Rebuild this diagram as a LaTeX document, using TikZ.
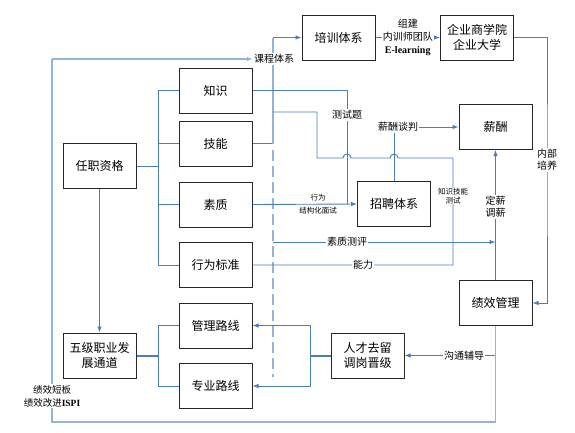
\documentclass[tikz,border=0pt]{standalone}
\usepackage{fontspec}
\setmainfont{Noto Sans CJK SC}
\newfontfamily\romanbold{Liberation Serif}
\usetikzlibrary{arrows.meta}
\definecolor{linkblue}{RGB}{74,126,187}
\definecolor{paleblue}{RGB}{149,179,215}

\begin{document}
\begin{tikzpicture}[x=1pt,y=-1pt,
    box/.style={shape=rectangle,draw=black!85,line width=1pt,minimum width=73pt,minimum height=45pt,inner sep=1pt,align=center,font=\fontsize{12}{15}\selectfont},
    link/.style={draw=linkblue,line width=0.9pt},
    pale/.style={draw=paleblue,line width=1.1pt},
    tip/.style={-{Latex[length=6pt,width=4.5pt]}},
    lbl/.style={fill=white,inner sep=1pt,align=center,font=\fontsize{10}{12}\selectfont},
    tiny/.style={inner sep=0.5pt,align=center,font=\fontsize{7.5}{9}\selectfont}]
    \useasboundingbox (0,0) rectangle (575,432);

    % vertices
    \node[box] (rz) at (99.5,166) {任职资格};
    \node[box] (zs) at (215.5,90.5) {知识};
    \node[box] (jn) at (215.5,143.5) {技能};
    \node[box] (sz) at (215.5,204.5) {素质};
    \node[box] (xw) at (215.5,265) {行为标准};
    \node[box] (gl) at (215.5,325.5) {管理路线};
    \node[box] (zy) at (215.5,386) {专业路线};
    \node[box] (wj) at (99.5,355.5) {五级职业发\\展通道};
    \node[box] (px) at (338.5,37.5) {培训体系};
    \node[box] (qy) at (477,37.5) {企业商学院\\企业大学};
    \node[box] (xc) at (495.5,127) {薪酬};
    \node[box] (zp) at (394,204) {招聘体系};
    \node[box] (jx) at (495.5,303) {绩效管理};
    \node[box] (rc) at (367.5,355.5) {人才去留\\调岗晋级};

    % bends and junctions
    \coordinate (b1) at (158,166);
    \coordinate (b2) at (158,355.5);
    \coordinate (b3) at (310,355.5);
    \coordinate (k0) at (273,143.5);
    \coordinate (k1) at (273,37.5);
    \coordinate (d1) at (273,150);
    \coordinate (d2) at (273,377);
    \coordinate (t1) at (347,90.5);
    \coordinate (t2) at (347,204);
    \coordinate (n1) at (453,265);
    \coordinate (n2) at (453,158);
    \coordinate (n3) at (317,158);
    \coordinate (n4) at (317,112);
    \coordinate (n5) at (273,112);
    \coordinate (q0) at (273,242);
    \coordinate (q1) at (495.5,242);
    \coordinate (nb) at (547,170);
    \coordinate (g1) at (495.5,355.5);
    \coordinate (lp1) at (52,422);
    \coordinate (lp2) at (52,59);

    % edges
    \path [link](rz.east) edge (b1);
    \draw[link] (b1) |- (zs.west);
    \draw[link] (b1) |- (jn.west);
    \draw[link] (b1) |- (sz.west);
    \draw[link] (b1) |- (xw.west);
    \draw[link,tip] (rz.south) -- (wj.north);
    \draw[link,line width=2pt] (wj.east) -- (b2);
    \draw[link] (b2) |- (gl.west);
    \draw[link] (b2) |- (zy.west);
    \draw[link,line width=2pt] (rc.west) -- (b3);
    \draw[link,tip] (b3) |- (gl.east);
    \draw[link,tip] (b3) |- (zy.east);

    \draw[pale,dash pattern=on 11pt off 5pt] (d1) -- (d2);
    \draw[link] (jn.east) -- (k0);
    \draw[pale] (k0) -- (k1);
    \draw[link,tip] (k1) -- (px.west);
    \draw[link,tip] (px.east) -- (qy.west)
        node[midway,lbl,font=\fontsize{10}{13}\selectfont] {组建\\内训师团队\\{\romanbold\bfseries E-learning}};

    \draw[link] (zs.east) -- (t1) -- (t2);
    \draw[link,tip] (sz.east) -- (zp.west);
    \node[lbl] (cst) at (347,115) {测试题};
    \node[tiny,anchor=south] (xwl) at (318,202) {行为};
    \node[tiny,anchor=north] (jgl) at (318,206) {结构化面试};

    \draw[link] (xw.east) -- (n1) -- (n2) -- (398,158) arc (0:180:4pt)
        -- (351,158) arc (0:180:4pt) -- (n3) -- (n4) -- (n5);
    \node[lbl] (nl) at (363,265) {能力};
    \node[tiny,fill=white] (zjl) at (453,196) {知识技能\\测试};

    \node[lbl] (xt) at (398,127) {薪酬谈判};
    \draw[link] (zp.north) -- (zp.north |- xt.south);
    \draw[link,tip] (xt.east) -- (xc.west);

    \draw[link,tip] (q0) -- (q1);
    \node[lbl] (szl) at (347,242) {素质测评};

    \draw[link,tip] (jx.north) -- (xc.south);
    \node[lbl] (dxl) at (495.5,207) {定薪\\调薪};

    \draw[link,tip] (qy.east) -| (nb) |- (jx.east);
    \node[lbl] (nbl) at (547,160) {内部\\培养};

    \draw[link,tip] (g1) -- (rc.east);
    \node[lbl] (gtl) at (464,355.5) {沟通辅导};

    \draw[pale] (jx.south) |- (lp1) -- (lp2);
    \node[lbl,anchor=west] (kcl) at (253,59) {课程体系};
    \draw[pale,tip] (lp2) -- (kcl.west);
    \node[lbl,font=\fontsize{9.5}{13}\selectfont] (isl) at (52,396) {绩效短板\\绩效改进{\romanbold\bfseries ISPI}};
\end{tikzpicture}
\end{document}
